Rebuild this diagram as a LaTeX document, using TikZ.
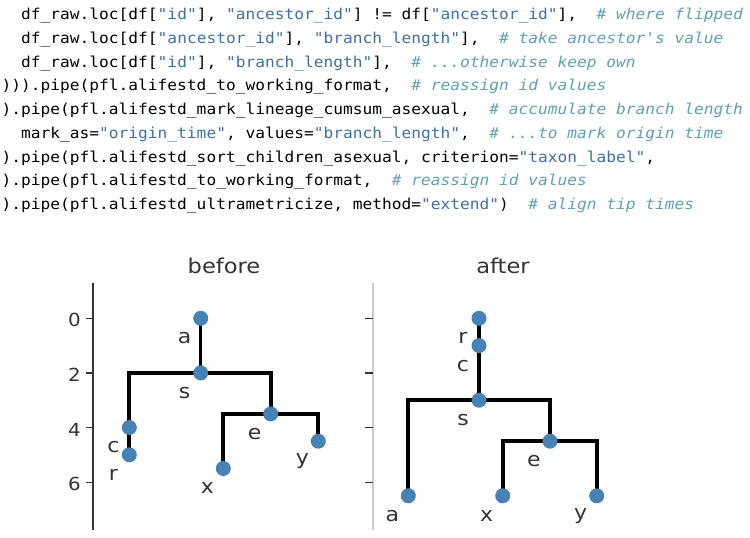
\documentclass[tikz,border=0pt]{standalone}
\usepackage{fontspec}
\setmainfont{DejaVu Sans}[FakeStretch=1.1]
\setmonofont{DejaVu Sans Mono}[FakeStretch=1.08]
\usetikzlibrary{backgrounds}
\definecolor{strblue}{HTML}{4070A0}
\definecolor{cmtteal}{HTML}{60A0B0}
\definecolor{dotblue}{HTML}{4682B4}
\definecolor{inkgray}{HTML}{333333}
\definecolor{spinegray}{HTML}{CCCCCC}
\newcommand{\pystr}[1]{\textcolor{strblue}{#1}}
\newcommand{\pycmt}[1]{\textcolor{cmtteal}{\itshape #1}}
\tikzset{
  codeln/.style  = {anchor=base west, inner sep=0pt,
                    font=\ttfamily\fontsize{15}{17}\selectfont\frenchspacing},
  ttl/.style     = {anchor=base, inner sep=0pt, text=inkgray,
                    font=\fontsize{20.5}{24}\selectfont},
  ticklbl/.style = {anchor=east, inner sep=0pt, text=inkgray,
                    font=\fontsize{18}{20}\selectfont},
  spine/.style   = {draw=inkgray, line width=1.6pt},
  tickmk/.style  = {draw=inkgray, line width=1.2pt},
  lbl/.style     = {anchor=base, inner sep=0pt, text=inkgray,
                    xshift=-16pt, yshift=-20pt,
                    font=\fontsize{20}{24}\selectfont},
  dot/.style     = {circle, fill=dotblue, minimum size=15pt, inner sep=0pt,
                    label={[lbl]center:#1}},
  branch/.style  = {line width=4pt, line join=miter},
  stem/.style    = {line width=3.3pt},
}

\begin{document}
\begin{tikzpicture}[x=1pt, y=-1pt]
    \useasboundingbox (0,0) rectangle (750,538);

    % Code listing
    \node[codeln] (l1) at (21,19.5)    {df\_raw.loc[df[\pystr{"id"}], \pystr{"ancestor\_id"}] != df[\pystr{"ancestor\_id"}],\ \ \pycmt{\# where flipped}};
    \node[codeln] (l2) at (21,43.25)   {df\_raw.loc[df[\pystr{"ancestor\_id"}], \pystr{"branch\_length"}],\ \ \pycmt{\# take ancestor's value}};
    \node[codeln] (l3) at (21,67)      {df\_raw.loc[df[\pystr{"id"}], \pystr{"branch\_length"}],\ \ \pycmt{\# ...otherwise keep own}};
    \node[codeln] (l4) at (1.5,90.75)  {))).pipe(pfl.alifestd\_to\_working\_format,\ \ \pycmt{\# reassign id values}};
    \node[codeln] (l5) at (1.5,114.5)  {).pipe(pfl.alifestd\_mark\_lineage\_cumsum\_asexual,\ \ \pycmt{\# accumulate branch length}};
    \node[codeln] (l6) at (21,138.25)  {mark\_as=\pystr{"origin\_time"}, values=\pystr{"branch\_length"},\ \ \pycmt{\# ...to mark origin time}};
    \node[codeln] (l7) at (1.5,162)    {).pipe(pfl.alifestd\_sort\_children\_asexual, criterion=\pystr{"taxon\_label"},};
    \node[codeln] (l8) at (1.5,185.75) {).pipe(pfl.alifestd\_to\_working\_format,\ \ \pycmt{\# reassign id values}};
    \node[codeln] (l9) at (1.5,209.5)  {).pipe(pfl.alifestd\_ultrametricize, method=\pystr{"extend"})\ \ \pycmt{\# align tip times}};

    % Panel 1 : before
    \node[ttl] (tbefore) at (224,273) {before};
    \draw[spine] (93,283) -- (93,530);
    \draw[tickmk] (86,318.3) -- (93,318.3);
    \draw[tickmk] (86,372.9) -- (93,372.9);
    \draw[tickmk] (86,427.5) -- (93,427.5);
    \draw[tickmk] (86,482.1) -- (93,482.1);
    \node[ticklbl] (tk0) at (81,320.3) {0};
    \node[ticklbl] (tk2) at (81,374.9) {2};
    \node[ticklbl] (tk4) at (81,429.5) {4};
    \node[ticklbl] (tk6) at (81,484.1) {6};

    \node[dot=a] (ba) at (200.7,318.3) {};
    \node[dot=s] (bs) at (200.7,372.9) {};
    \node[dot=c] (bc) at (129.3,427.5) {};
    \node[dot=r] (br) at (129.3,454.8) {};
    \node[dot=e] (be) at (270.7,413.9) {};
    \node[dot=x] (bx) at (223.3,468.5) {};
    \node[dot=y] (by) at (318.3,441.2) {};

    % Panel 2 : after
    \node[ttl] (tafter) at (503,273) {after};
    \draw[spine, draw=spinegray] (373,283) -- (373,530);
    \draw[tickmk] (365,318.3) -- (373,318.3);
    \draw[tickmk] (365,372.9) -- (373,372.9);
    \draw[tickmk] (365,427.5) -- (373,427.5);
    \draw[tickmk] (365,482.1) -- (373,482.1);

    \node[dot=r] (ar) at (479,318.3) {};
    \node[dot=c] (ac) at (479,345.6) {};
    \node[dot=s] (as) at (479,400.2) {};
    \node[dot=e] (ae) at (550,441.2) {};
    \node[dot=a] (aa) at (408.3,495.8) {};
    \node[dot=x] (ax) at (502.7,495.8) {};
    \node[dot=y] (ay) at (596.7,495.8) {};

    \begin{scope}[on background layer]
      \draw[stem]   (ba.center) -- (bs.center);
      \draw[branch] (bc.center) |- (bs.center) -| (be.center);
      \draw[branch] (bc.center) -- (br.center);
      \draw[branch] (bx.center) |- (be.center) -| (by.center);

      \draw[stem]   (ar.center) -- (ac.center);
      \draw[branch] (ac.center) -- (as.center);
      \draw[branch] (aa.center) |- (as.center) -| (ae.center);
      \draw[branch] (ax.center) |- (ae.center) -| (ay.center);
    \end{scope}
  \end{tikzpicture}
\end{document}
